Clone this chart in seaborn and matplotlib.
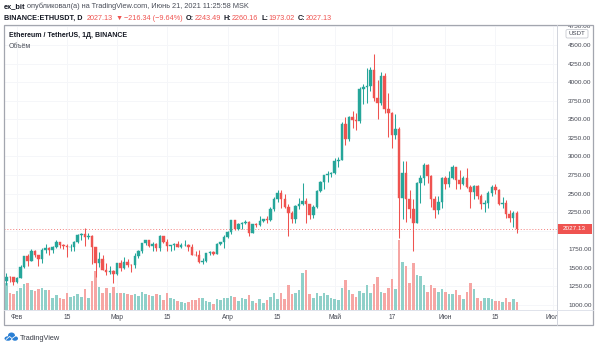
import numpy as np
import pandas as pd
import matplotlib
matplotlib.use("Agg")
import matplotlib.pyplot as plt
import matplotlib.dates as mdates
from matplotlib.patches import Rectangle, FancyBboxPatch, Ellipse
from matplotlib.transforms import blended_transform_factory
import seaborn as sns

# ---------------- data (BINANCE:ETHUSDT, 1D) ----------------
dates = pd.date_range("2021-01-28", "2021-06-21", freq="D")

open_ = [1252, 1330, 1382, 1376,
         1314, 1369, 1515, 1660, 1593, 1724, 1677, 1614, 1746, 1768, 1744, 1783, 1843, 1813, 1800, 1780, 1781, 1848, 1937, 1960,
         1919, 1935, 1777, 1572, 1626, 1475, 1446, 1459,
         1416, 1565, 1492, 1575, 1541, 1533, 1655, 1724, 1835, 1870, 1795, 1826, 1772, 1924, 1854, 1792, 1806, 1823, 1782, 1808,
         1813, 1782, 1679, 1669, 1582, 1587, 1702, 1716, 1691, 1819, 1846,
         1919, 1977, 2142, 2028, 2093, 2108, 2118, 1971, 2088, 2071, 2135, 2158, 2139, 2299, 2432, 2514, 2422, 2316, 2235, 2162,
         2330, 2357, 2397, 2364, 2212, 2316, 2534, 2662, 2747, 2757,
         2773, 2945, 2950, 3431, 3240, 3524, 3490, 3482, 3902, 3928, 3952, 4168, 3785, 3715, 4079, 3640, 3587, 3282, 3374, 2439,
         2773, 2430, 2296, 2107, 2643, 2706, 2888, 2736, 2424, 2281, 2386,
         2707, 2634, 2707, 2856, 2688, 2630, 2715, 2590, 2517, 2608, 2472, 2353, 2372, 2510, 2587, 2553, 2364, 2373, 2231, 2177,
         2243.49]

high = [1347, 1433, 1390, 1380,
        1373, 1540, 1665, 1693, 1756, 1740, 1680, 1765, 1827, 1785, 1792, 1871, 1848, 1825, 1825, 1828, 1863, 1950, 1976, 2042,
        1963, 1939, 1778, 1710, 1670, 1560, 1525, 1468,
        1568, 1600, 1650, 1621, 1547, 1696, 1736, 1840, 1881, 1875, 1844, 1838, 1946, 1930, 1887, 1813, 1834, 1868, 1832, 1873,
        1822, 1816, 1727, 1740, 1628, 1703, 1730, 1726, 1836, 1852, 1947,
        1992, 2150, 2145, 2109, 2120, 2150, 2132, 2094, 2104, 2200, 2160, 2197, 2318, 2450, 2544, 2548, 2498, 2360, 2271, 2345,
        2436, 2645, 2437, 2366, 2345, 2547, 2676, 2755, 2798, 2786,
        2975, 2990, 3457, 3530, 3542, 3610, 3587, 3933, 3970, 4195, 4200, 4375, 4030, 4140, 4119, 3850, 3600, 3570, 3400, 2940,
        2940, 2550, 2433, 2650, 2749, 2913, 2895, 2756, 2470, 2470, 2722,
        2739, 2800, 2891, 2858, 2817, 2743, 2845, 2620, 2620, 2620, 2493, 2410, 2530, 2620, 2632, 2560, 2455, 2410, 2285, 2270,
        2260.16]

low = [1215, 1270, 1308, 1275,
       1294, 1363, 1505, 1530, 1586, 1643, 1530, 1564, 1700, 1667, 1695, 1762, 1770, 1753, 1651, 1722, 1725, 1830, 1880, 1800,
       1895, 1550, 1371, 1512, 1465, 1400, 1420, 1293,
       1410, 1461, 1489, 1506, 1440, 1500, 1638, 1700, 1810, 1775, 1732, 1730, 1725, 1840, 1725, 1730, 1736, 1780, 1761, 1800,
       1730, 1670, 1655, 1570, 1546, 1585, 1670, 1670, 1685, 1803, 1767,
       1903, 1954, 2015, 2011, 2017, 2085, 1930, 1966, 2053, 2057, 2115, 2110, 2137, 2260, 2391, 2300, 2305, 1930, 2100, 2102,
       2296, 2350, 2104, 2153, 2167, 2306, 2527, 2568, 2660, 2720,
       2758, 2856, 2950, 3150, 3211, 3383, 3350, 3455, 3705, 3714, 3884, 3742, 3500, 3688, 3590, 3256, 3115, 3241, 1900, 2160,
       2112, 2168, 1728, 2100, 2378, 2616, 2640, 2313, 2168, 2222, 2312,
       2557, 2582, 2697, 2560, 2555, 2616, 2580, 2301, 2432, 2430, 2288, 2250, 2300, 2471, 2500, 2350, 2303, 2173, 2120, 2046,
       1973.02]

close = [1330, 1382, 1376, 1314,
         1369, 1515, 1660, 1593, 1724, 1677, 1614, 1746, 1768, 1744, 1783, 1843, 1813, 1800, 1780, 1781, 1848, 1937, 1960, 1919,
         1935, 1777, 1572, 1626, 1475, 1446, 1459, 1416,
         1565, 1492, 1575, 1541, 1533, 1655, 1724, 1835, 1870, 1795, 1826, 1772, 1924, 1854, 1792, 1806, 1823, 1782, 1808, 1813,
         1782, 1679, 1669, 1582, 1587, 1702, 1716, 1691, 1819, 1846, 1919,
         1977, 2142, 2028, 2093, 2108, 2118, 1971, 2088, 2071, 2135, 2158, 2139, 2299, 2432, 2514, 2422, 2316, 2235, 2162, 2330,
         2357, 2397, 2364, 2212, 2316, 2534, 2662, 2747, 2757, 2773,
         2945, 2950, 3431, 3240, 3524, 3490, 3482, 3902, 3928, 3952, 4168, 3785, 3715, 4079, 3640, 3587, 3282, 3374, 2439, 2773,
         2430, 2296, 2107, 2643, 2706, 2888, 2736, 2424, 2281, 2386, 2707,
         2634, 2707, 2856, 2688, 2630, 2715, 2590, 2517, 2608, 2472, 2353, 2372, 2510, 2587, 2553, 2364, 2373, 2231, 2177, 2243.49,
         2027.13]

# daily volume, thousand ETH
volume = [1210, 1485, 935, 880,
          1045, 1210, 1430, 1485, 1100, 1045, 1155, 1210, 1100, 1100, 660, 825, 660, 605, 935, 715, 770, 880, 715, 1155,
          660, 1595, 2145, 1265, 935, 1210, 935, 1265,
          935, 935, 935, 880, 825, 880, 770, 990, 880, 825, 770, 880, 825, 550, 935, 660, 605, 495, 440, 385,
          440, 550, 550, 660, 660, 495, 440, 330, 605, 550, 660,
          660, 770, 715, 495, 660, 605, 825, 495, 385, 605, 385, 550, 715, 935, 605, 935, 605, 1375, 880, 935,
          1100, 2035, 2200, 880, 660, 935, 770, 935, 825, 660,
          605, 550, 1210, 1650, 1100, 880, 715, 1045, 935, 1375, 935, 1430, 1815, 990, 935, 1210, 1705, 1155, 3850, 2640,
          2420, 1485, 2585, 1925, 1870, 1375, 990, 1375, 1210, 990, 1155,
          990, 880, 880, 1100, 825, 605, 990, 1485, 1155, 660, 495, 660, 660, 605, 495, 495, 440, 660, 440, 605,
          440]

tick_dates = ["2021-02-01", "2021-02-15", "2021-03-01", "2021-03-15", "2021-04-01", "2021-04-15",
              "2021-05-01", "2021-05-17", "2021-06-01", "2021-06-15", "2021-07-01"]
tick_labels = ["Фев", "15", "Мар", "15", "Апр", "15", "Май", "17", "Июн", "15", "Июл"]
price_ticks = [1000, 1250, 1500, 1750, 2000, 2250, 2500, 2750, 3000, 3250, 3500, 3750, 4000, 4250, 4500, 4750]
last_price = 2027.13

# ---------------- style ----------------
sns.set_theme(style="white")
plt.rcParams['font.family'] = ['Liberation Sans', 'DejaVu Sans']
UP, DOWN = "#26a69a", "#ef5350"
VUP, VDOWN = "#8fd0c9", "#f6a6a4"
TXT = "#131722"
AXT = "#434651"
GRID = "#f5f6f9"
FRAME = "#a3a6af"

W, H = 598, 348
fig = plt.figure(figsize=(W / 100, H / 100), dpi=100)
fig.patch.set_facecolor("white")


def fr(x0, y0, x1, y1):
    """pixel box (top-left origin) -> figure fraction [l, b, w, h]"""
    return [x0 / W, 1 - y1 / H, (x1 - x0) / W, (y1 - y0) / H]


PL, PT, PR, PB = 4, 25, 557, 310
ax = fig.add_axes(fr(PL, PT, PR, PB))      # volume
ax2 = ax.twinx()                            # price

x = mdates.date2num(dates)
o = np.array(open_, float); c = np.array(close, float)
h_ = np.array(high, float); l_ = np.array(low, float)
up = c >= o

df = pd.DataFrame({"x": x, "volume": volume, "dir": np.where(up, "up", "down")})
sns.barplot(data=df, x="x", y="volume", hue="dir", palette={"up": VUP, "down": VDOWN},
            native_scale=True, dodge=False, legend=False, width=0.72, saturation=1,
            errorbar=None, linewidth=0, ax=ax)
ax.set_ylim(0, 15700)
ax.set_yticks([])
ax.set_ylabel(""); ax.set_xlabel("")

# faint grid
for td in tick_dates:
    ax.axvline(mdates.date2num(pd.Timestamp(td)), color=GRID, lw=0.7, zorder=0)
for pt in price_ticks:
    ax.axhline(pt * 0 + (pt - 933) / (4769 - 933) * 15700, color=GRID, lw=0.7, zorder=0)

cols = np.where(up, UP, DOWN)
ax2.vlines(x, l_, h_, colors=cols, linewidth=0.75, zorder=2)
ax2.bar(x, np.abs(c - o), bottom=np.minimum(o, c), width=0.7, color=cols,
        edgecolor=cols, linewidth=0.3, zorder=3)
ax2.axhline(last_price, color=DOWN, lw=0.7, ls=(0, (1, 2)), zorder=1, alpha=0.75)

x0 = mdates.date2num(pd.Timestamp("2021-02-01"))
ax.set_xlim(x0 - 13 / 3.57, x0 + 540 / 3.57)
ax2.set_ylim(933, 4769)

# the scale hides the tick label covered by the last-price label
shown = [v for v in price_ticks if abs(v - last_price) > 120]
ax2.set_yticks(shown, [f"{v:.2f}" for v in shown])
ax2.tick_params(axis="y", length=0, pad=8, labelsize=4.6, labelcolor=AXT)
ax.set_xticks([mdates.date2num(pd.Timestamp(t)) for t in tick_dates], tick_labels)
ax.tick_params(axis="x", length=0, pad=3.2, labelsize=4.8, labelcolor=AXT)
for a in (ax, ax2):
    for s in a.spines.values():
        s.set_visible(False)

# current price label on the scale
bt = blended_transform_factory(ax2.transAxes, ax2.transData)
axw = PR - PL
ax2.add_patch(Rectangle((1.0, last_price - 70), 35 / axw, 140, transform=bt,
                        facecolor=DOWN, edgecolor="none", clip_on=False, zorder=5))
ax2.text(1.0 + 17.5 / axw, last_price, f"{last_price:.2f}", transform=bt, ha="center", va="center",
         color="white", fontsize=4.6, clip_on=False, zorder=6)

# overlay for figure-level decorations
ov = fig.add_axes([0, 0, 1, 1], zorder=10)
ov.set_xlim(0, W); ov.set_ylim(H, 0); ov.axis("off")
ov.patch.set_visible(False)
ov.add_patch(Rectangle((557, 12), 40, 13, facecolor="white", edgecolor="none"))
ov.add_patch(Rectangle((557.5, 311), 35, 13.5, facecolor="white", edgecolor="none"))
ov.add_patch(Rectangle((4, 25), 589, 300, facecolor="none", edgecolor=FRAME, lw=0.9))
ov.plot([557, 557], [25, 325], color="#d1d4dc", lw=0.7)
ov.plot([4, 593], [310, 310], color="#e0e3eb", lw=0.7)
ov.add_patch(FancyBboxPatch((566, 29.5), 22, 8.5, boxstyle="round,pad=0,rounding_size=1.5",
                            facecolor="white", edgecolor="#c8cad0", lw=0.6))
ov.text(577, 33.8, "USDT", ha="center", va="center", fontsize=4.4, color=AXT)


def chain(parts, x, y, fs):
    prev = None
    for s, color, weight, gap in parts:
        if prev is None:
            prev = ov.text(x, y, s, ha="left", va="baseline", fontsize=fs, color=color, fontweight=weight)
        else:
            prev = ov.annotate(s, xy=(1, 0), xycoords=prev, xytext=(gap, 0), textcoords="offset points",
                               ha="left", va="bottom", fontsize=fs, color=color, fontweight=weight)
    return prev


chain([("ex_bit", TXT, "bold", 0),
       ("опубликовал(а) на TradingView.com, Июнь 21, 2021 11:25:58 MSK", "#4a4e59", "normal", 1.4)],
      4, 8.4, 5.35)
chain([("BINANCE:ETHUSDT, D", TXT, "bold", 0),
       ("2027.13", DOWN, "normal", 3.2),
       ("▼", DOWN, "normal", 1.5),
       ("−216.34 (−9.64%)", DOWN, "normal", 1.5),
       ("O:", TXT, "bold", 2.0), ("2243.49", DOWN, "normal", 0.4),
       ("H:", TXT, "bold", 2.0), ("2260.16", DOWN, "normal", 0.4),
       ("L:", TXT, "bold", 2.0), ("1973.02", DOWN, "normal", 0.4),
       ("C:", TXT, "bold", 2.0), ("2027.13", DOWN, "normal", 0.4)],
      4, 20.2, 5.2)

ov.text(9, 37.2, "Ethereum / TetherUS, 1Д, BINANCE", ha="left", va="baseline", fontsize=5.0,
        color=TXT, fontweight="bold")
ov.text(9, 48.2, "Объём", ha="left", va="baseline", fontsize=5.0, color="#4a4e59")

# TradingView logo
for (cx, cy, rw, rh) in [(8, 338.5, 7, 4.5), (11.5, 335.5, 7, 6), (15, 338.5, 6, 4.5)]:
    ov.add_patch(Ellipse((cx, cy), rw, rh, facecolor="#2a7fd4", edgecolor="none"))
ov.plot([6, 9.5, 12, 16], [339.5, 336.5, 338.5, 335.5], color="white", lw=0.6)
ov.text(19.5, 339.8, "TradingView", ha="left", va="baseline", fontsize=5.3, color="#3a3e48")

fig.savefig("out.png", dpi=100, facecolor="white")
